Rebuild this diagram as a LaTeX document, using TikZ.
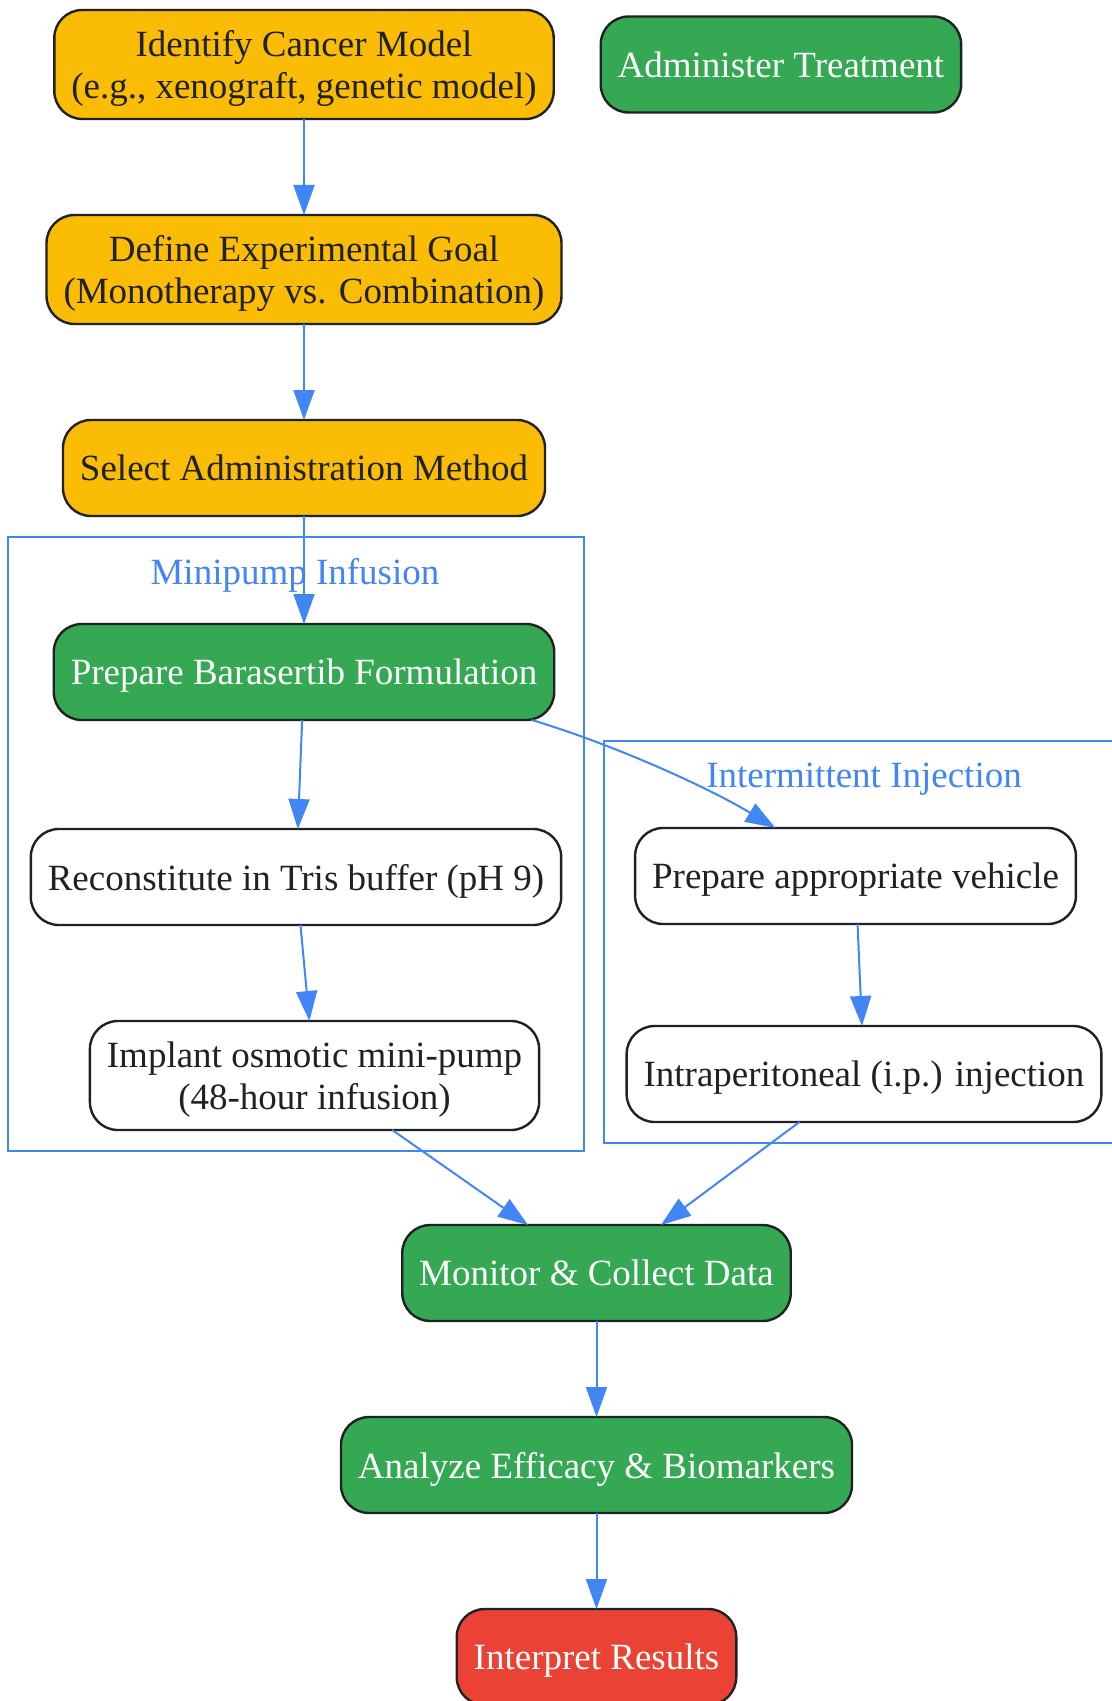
\documentclass[tikz,border=0pt]{standalone}
\usepackage{fontspec}
\setmainfont{Liberation Serif}
\usepackage{tikz}
\usetikzlibrary{positioning,arrows.meta}
\definecolor{gOrange}{HTML}{FBBC05}
\definecolor{gGreen}{HTML}{34A853}
\definecolor{gRed}{HTML}{EA4335}
\definecolor{gBlue}{HTML}{4285F4}
\definecolor{gDark}{HTML}{202124}
\tikzset{
>={Triangle[length=15pt,width=10.5pt]},
  base/.style={rectangle, rounded corners=14pt, draw=gDark, line width=1.2pt, text centered, align=center, inner xsep=8.5pt, inner ysep=2pt, outer sep=0pt, text depth=0pt, minimum height=48pt, font=\fontsize{18.5}{21.3}\selectfont},
  prep/.style={base, fill=gOrange, text=gDark},
  act/.style={base, fill=gGreen, text=white},
  result/.style={base, fill=gRed, text=white},
  plain/.style={base, fill=white, text=gDark},
  tall/.style={minimum height=54.5pt},
  lineR/.style={draw=gBlue, line width=1pt, ->},
  cluster/.style={draw=gBlue, line width=1pt},
  clabel/.style={text=gBlue, inner sep=0pt, anchor=base, font=\fontsize{18.5}{21.3}\selectfont}
}

\begin{document}
\begin{tikzpicture}[x=0.5pt, y=-0.5pt]
    \useasboundingbox (0,0) rectangle (1112,1701);
    % clusters
    \draw [cluster] (8,537) rectangle (584,1151);
    \node [clabel] (cMini) at (295,584) {Minipump Infusion};
    \draw [cluster] (604,741) rectangle (1130,1143);
    \node [clabel] (cInj) at (864,787) {Intermittent Injection};
    % planning steps
    \node [prep, tall] (model) at (304,64.5) {Identify Cancer Model\\(e.g., xenograft, genetic model)};
    \node [act, right=23.5pt of model] (admin) {Administer Treatment};
    \node [prep, tall, below=48pt of model] (goal) {Define Experimental Goal\\(Monotherapy vs. Combination)};
    \node [prep, below=48pt of goal] (method) {Select Administration Method};
    % minipump branch
    \node [act, below=54pt of method] (formul) {Prepare Barasertib Formulation};
    \node [plain, below=54.5pt of formul, xshift=-4pt] (tris) {Reconstitute in Tris buffer (pH 9)};
    \node [plain, tall, below=48pt of tris, xshift=9.25pt] (pump) {Implant osmotic mini-pump\\(48-hour infusion)};
    % injection branch
    \node [plain] (vehicle) at (855.5,876) {Prepare appropriate vehicle};
    \node [plain, below=51pt of vehicle, xshift=4.25pt] (ip) {Intraperitoneal (i.p.) injection};
    % follow-up
    \node [act] (monitor) at (596.5,1273) {Monitor \& Collect Data};
    \node [act, below=48pt of monitor] (analyze) {Analyze Efficacy \& Biomarkers};
    \node [result, below=48pt of analyze] (interp) {Interpret Results};
    % connectors
    \draw [lineR] (model) -- (goal);
    \draw [lineR] (goal) -- (method);
    \draw [lineR] (method) -- (formul);
    \draw [lineR] (formul) -- (tris);
    \draw [lineR] (tris) -- (pump);
    \draw [lineR] ([xshift=-11.2pt]formul.south east) .. controls +(40pt,-12pt) and +(-35pt,21pt) .. ([xshift=-40pt]vehicle.north);
    \draw [lineR] (vehicle) -- (ip);
    \draw [lineR] (pump) -- (monitor);
    \draw [lineR] (ip) -- (monitor);
    \draw [lineR] (monitor) -- (analyze);
    \draw [lineR] (analyze) -- (interp);
\end{tikzpicture}
\end{document}
